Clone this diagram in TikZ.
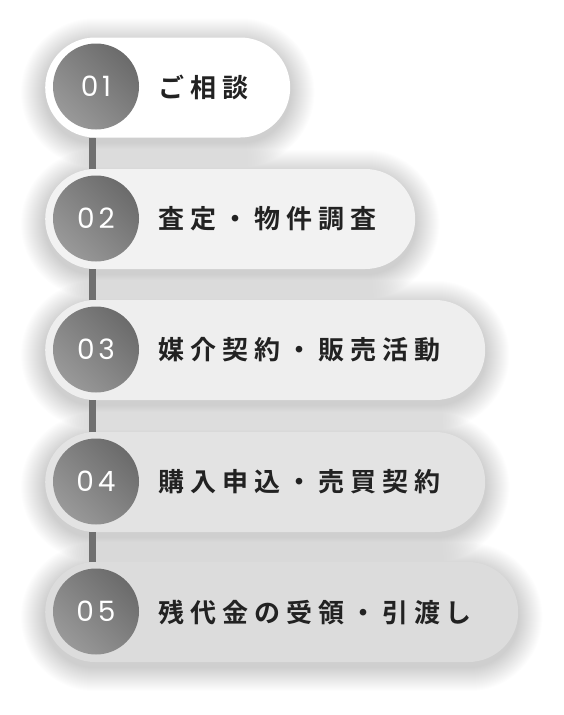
\documentclass[tikz,border=0pt]{standalone}
\usepackage{fontspec}
\newfontfamily\jpfont[LetterSpace=23,BoldFont={Noto Sans CJK JP Bold}]{Noto Sans CJK JP}
\newfontfamily\numfont[LetterSpace=14]{Poppins}
\definecolor{pillA}{HTML}{FFFFFF}
\definecolor{pillB}{HTML}{F2F2F2}
\definecolor{pillC}{HTML}{EEEEEE}
\definecolor{pillD}{HTML}{E3E3E3}
\definecolor{pillE}{HTML}{DCDCDC}
\definecolor{txt}{HTML}{222222}
\definecolor{linec}{HTML}{707070}
\pgfdeclarelayer{bgfill}
\pgfdeclarelayer{shadowlayer}
\pgfsetlayers{bgfill,shadowlayer,main}
\tikzset{
  pill/.style={rectangle, rounded corners=50pt, minimum height=100pt, anchor=west, inner sep=0pt},
  numcircle/.style={circle, minimum size=86pt, inner sep=0pt, shading=axis,
    top color=black!58, bottom color=black!40, shading angle=-45,
    text=white, font=\numfont\fontsize{28}{32}\selectfont},
  label/.style={anchor=west, inner sep=0pt, text=txt, font=\jpfont\bfseries\fontsize{26}{30}\selectfont},
  vline/.style={draw=linec, line width=7pt}
}
\newcommand\pillshadow[1]{%
  \foreach \d in {1,2,...,24}{
    \fill[black, fill opacity=0.007, rounded corners={50pt+\d pt}]
      ([xshift=-\d pt, yshift=-\d pt-5pt]#1.south west) rectangle ([xshift=\d pt, yshift=\d pt-5pt]#1.north east);
  }%
}
\begin{document}
\begin{tikzpicture}[x=1pt,y=-1pt]
\begin{pgfonlayer}{bgfill}
\fill[white] (0,0) rectangle (564,715);
\end{pgfonlayer}
\useasboundingbox (0,0) rectangle (564,715);
% pills
\node[pill, fill=pillE, minimum width=473pt] (p5) at (45,612) {};
\node[pill, fill=pillD, minimum width=440pt] (p4) at (45,482) {};
\node[pill, fill=pillC, minimum width=440pt] (p3) at (45,350) {};
\node[pill, fill=pillB, minimum width=370pt] (p2) at (45,219) {};
\node[pill, fill=pillA, minimum width=245pt] (p1) at (45,87.5) {};
\begin{pgfonlayer}{shadowlayer}
\pillshadow{p1}\pillshadow{p2}\pillshadow{p3}\pillshadow{p4}\pillshadow{p5}
\end{pgfonlayer}
% circles
\node[numcircle] (c1) at (96,86.5) {01};
\node[numcircle] (c2) at (96,218.5) {02};
\node[numcircle] (c3) at (96,349.5) {03};
\node[numcircle] (c4) at (96,481.5) {04};
\node[numcircle] (c5) at (96,611.5) {05};
% labels
\node[label] (t1) at (158,87) {ご相談};
\node[label] (t2) at (158,219) {査定・物件調査};
\node[label] (t3) at (158,350) {媒介契約・販売活動};
\node[label] (t4) at (158,482) {購入申込・売買契約};
\node[label] (t5) at (158,612) {残代金の受領・引渡し};
% connectors
\draw[vline] ([xshift=-3.5pt]c1.center |- p1.south) -- ([xshift=-3.5pt]c2.center |- p2.north);
\draw[vline] ([xshift=-3.5pt]c2.center |- p2.south) -- ([xshift=-3.5pt]c3.center |- p3.north);
\draw[vline] ([xshift=-3.5pt]c3.center |- p3.south) -- ([xshift=-3.5pt]c4.center |- p4.north);
\draw[vline] ([xshift=-3.5pt]c4.center |- p4.south) -- ([xshift=-3.5pt]c5.center |- p5.north);
\end{tikzpicture}
\end{document}
